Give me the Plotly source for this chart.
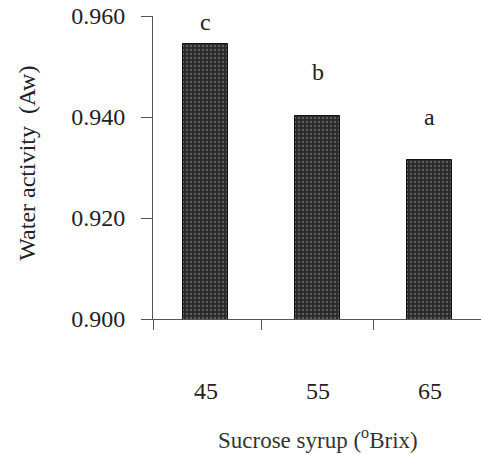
import plotly.graph_objects as go

categories = ["45", "55", "65"]
water_activity = [0.9545, 0.9402, 0.9315]
letters = ["c", "b", "a"]
letter_shift = [22, 44, 43]

x_pos = list(range(len(categories)))
FONT = "'Liberation Serif', 'Times New Roman', serif"
TXT = "#222222"

fig = go.Figure()
fig.add_trace(go.Bar(
    x=x_pos, y=water_activity, width=0.4,
    marker=dict(color="#2a2a2a",
                line=dict(color="#111111", width=1),
                pattern=dict(shape=".", fgcolor="#9a9a9a", bgcolor="#2a2a2a",
                             size=4, solidity=0.25)),
    showlegend=False,
))

for xi, v, t, s in zip(x_pos, water_activity, letters, letter_shift):
    fig.add_annotation(x=xi, y=v, text=t, showarrow=False, yshift=s,
                       yanchor="middle", font=dict(family=FONT, size=24, color=TXT))

for xi, c in zip(x_pos, categories):
    fig.add_annotation(x=xi, xref="x", y=-0.238, yref="paper", yanchor="middle",
                       text=c, showarrow=False,
                       font=dict(family=FONT, size=24, color=TXT))

fig.add_annotation(x=1, xref="x", y=-0.393, yref="paper", yanchor="middle",
                   text="Sucrose syrup (<sup>o</sup>Brix)", showarrow=False,
                   font=dict(family=FONT, size=23, color="#333333"))

fig.add_annotation(x=-0.385, xref="paper", xanchor="center", y=0.515, yref="paper",
                   yanchor="middle", text="Water activity  (Aw)", showarrow=False,
                   textangle=-90, font=dict(family=FONT, size=24, color=TXT))

fig.update_layout(
    width=481, height=454,
    margin=dict(l=153, r=0, t=16, b=135, autoexpand=False),
    paper_bgcolor="white", plot_bgcolor="white",
    bargap=0,
    xaxis=dict(range=[-0.47, 2.46], tickvals=[-0.47, 0.5, 1.5], showticklabels=False,
               ticks="outside", ticklen=10, tickcolor="#555555", tickwidth=1,
               showline=True, linecolor="#555555", linewidth=1,
               showgrid=False, zeroline=False, automargin=False),
    yaxis=dict(range=[0.9, 0.96], tickvals=[0.90, 0.92, 0.94, 0.96],
               tickformat=".3f", ticks="outside", ticklen=11,
               tickcolor="#555555", tickwidth=1,
               showline=True, linecolor="#555555", linewidth=1,
               showgrid=False, zeroline=False, automargin=False,
               tickfont=dict(family=FONT, size=24, color=TXT),
               ticklabelstandoff=11),
)

fig.write_html("out.html", config={"displayModeBar": False},
               post_script="document.body.style.margin='0px';")
